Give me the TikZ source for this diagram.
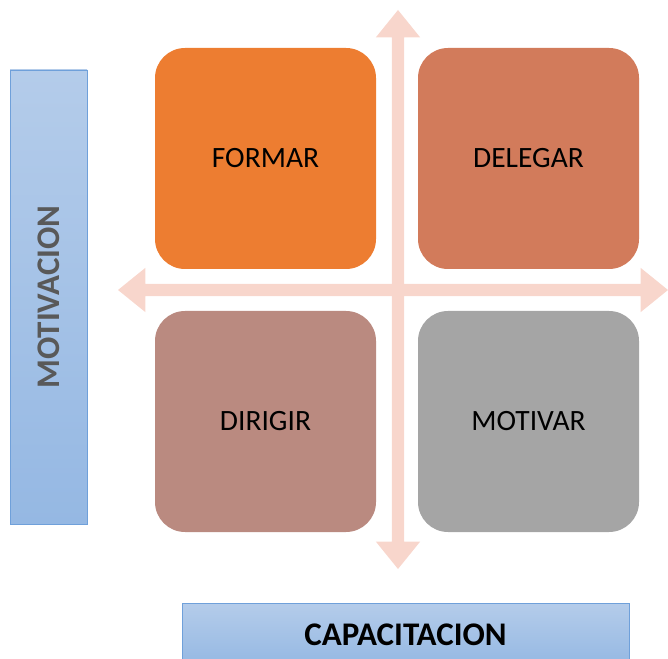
\documentclass[tikz,border=0pt]{standalone}
\usepackage{fontspec}
\setmainfont{Carlito}
\usetikzlibrary{shapes.arrows}

\definecolor{formar}{HTML}{ED7D31}
\definecolor{delegar}{HTML}{D27B5B}
\definecolor{dirigir}{HTML}{BA8A80}
\definecolor{motivar}{HTML}{A5A5A5}
\definecolor{flecha}{HTML}{F8D6CC}
\definecolor{barraA}{HTML}{B4CCEA}
\definecolor{barraB}{HTML}{95B8E3}
\definecolor{barraborde}{HTML}{6FA0DA}

\tikzset{
  cuadro/.style={fill=#1, rounded corners=30pt, minimum width=221pt,
    minimum height=221pt, inner sep=0pt, font=\fontsize{29.5}{33}\selectfont},
  eje/.style={double arrow, fill=flecha, inner xsep=0pt, inner ysep=6pt,
    double arrow head extend=16pt, double arrow tip angle=78},
  barra/.style={top color=barraA, bottom color=barraB, draw=barraborde,
    line width=0.8pt, inner sep=0pt, font=\bfseries\fontsize{33}{36}\selectfont}
}

\begin{document}
\begin{tikzpicture}[x=1pt, y=1pt]
    \clip (0, 0) rectangle (668, 658);
    % ejes
    \node[eje, minimum height=559pt, rotate=90] (v) at (398, 368.5) {};
    \node[eje, minimum height=550pt] (h) at (393, 368) {};
    % cuadrantes
    \node[cuadro=formar] (a) at (265.5, 499.5) {FORMAR};
    \node[cuadro=delegar] (b) at (528.5, 499.5) {DELEGAR};
    \node[cuadro=dirigir] (c) at (265.5, 236.5) {DIRIGIR};
    \node[cuadro=motivar] (d) at (528.5, 236.5) {MOTIVAR};
    % barras
    \node[barra, minimum width=77pt, minimum height=454pt] (m) at (48.5, 361) {};
    \node[rotate=90, text=black!65, font=\bfseries\fontsize{33}{36}\selectfont] (mt) at (m.center) {MOTIVACION};
    \node[barra, minimum width=447pt, minimum height=63pt] (k) at (405.5, 23.5) {CAPACITACION};
\end{tikzpicture}
\end{document}
